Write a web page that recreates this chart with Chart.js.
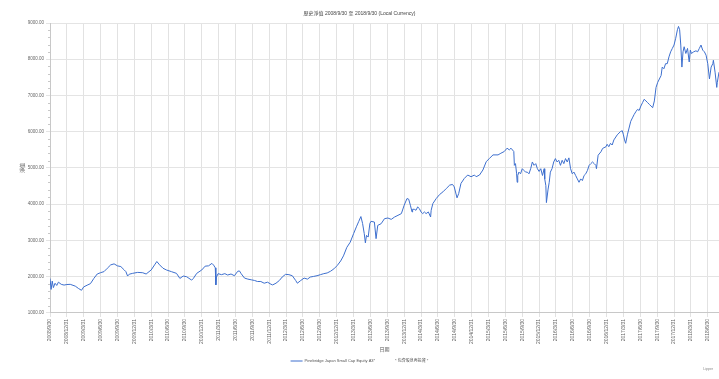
<!DOCTYPE html>
<html>
<head>
<meta charset="utf-8">
<script src="https://cdn.jsdelivr.net/npm/chart.js"></script>
<style>
  html, body { margin: 0; padding: 0; background: #fff; }
  #wrap { position: relative; width: 719px; height: 379px; }
  #note { position: absolute; right: 6px; bottom: 8px; font: 3.5px "Liberation Sans", sans-serif; color: #888; }
</style>
</head>
<body>
<div id="wrap">
  <canvas id="navChart" width="719" height="379"></canvas>
  <div id="note">Lipper</div>
</div>
<script>
// Chart data (months after 2008/9/30, fund value)
const monthOffsets = [
    0, 0.2, 0.4, 0.6, 0.9, 1.2, 1.5, 2.0, 2.5, 3.0, 3.6, 4.5, 5.1, 5.6, 6.0, 6.6, 7.2, 7.8, 8.4, 9.0,
    9.6, 10.2, 10.8, 11.4, 12.0, 12.6, 13.2, 13.5, 13.8, 14.1, 14.7, 15.6, 16.5, 17.1, 18.0, 18.6, 19.0, 19.5, 20.1, 20.7,
    21.6, 22.5, 23.1, 23.7, 24.3, 25.2, 25.5, 26.1, 27.0, 27.6, 28.2, 28.8, 29.1, 29.4, 29.5, 29.6, 29.9, 30.5, 31.1, 31.6,
    32.2, 32.8, 33.4, 33.7, 34.0, 34.6, 35.2, 35.8, 36.4, 36.9, 37.5, 38.1, 38.7, 39.3, 39.6, 40.2, 40.8, 41.3, 41.9, 42.5,
    43.1, 43.7, 44.0, 44.6, 45.2, 45.8, 46.3, 46.9, 47.5, 48.1, 48.7, 49.3, 49.9, 50.5, 51.1, 51.7, 52.2, 52.8, 53.4, 54.0,
    54.5, 54.9, 55.3, 55.6, 55.9, 56.1, 56.3, 56.6, 56.9, 57.1, 57.7, 58.0, 58.3, 58.9, 59.5, 60.1, 60.7, 61.3, 61.9, 62.5,
    63.0, 63.5, 63.8, 64.1, 64.4, 64.5, 64.8, 65.1, 65.4, 65.7, 66.0, 66.3, 66.6, 66.9, 67.3, 67.7, 67.8, 68.1, 68.7, 69.3,
    69.9, 70.5, 71.1, 71.6, 71.9, 72.4, 72.7, 73.1, 73.7, 74.3, 74.9, 75.5, 75.8, 76.4, 77.0, 77.6, 78.2, 78.8, 79.7, 80.2,
    80.8, 81.3, 81.7, 82.0, 82.5, 82.6, 82.8, 83.0, 83.1, 83.2, 83.4, 83.7, 84.0, 84.3, 84.6, 84.9, 85.2, 85.5, 85.8, 86.1,
    86.4, 86.7, 87.0, 87.3, 87.6, 87.9, 88.0, 88.2, 88.3, 88.6, 88.8, 89.0, 89.3, 89.6, 89.9, 90.2, 90.5, 90.8, 91.1, 91.4,
    91.7, 92.0, 92.3, 92.6, 92.9, 93.2, 93.5, 93.8, 94.1, 94.4, 94.7, 95.0, 95.3, 95.6, 95.9, 96.2, 96.5, 96.8, 97.1, 97.2,
    97.5, 98.0, 98.3, 98.9, 99.1, 99.4, 99.7, 100.0, 100.3, 100.9, 101.5, 101.8, 102.0, 102.2, 102.4, 102.7, 103.0, 103.3, 103.6, 103.9,
    104.2, 104.5, 104.8, 105.1, 105.4, 105.7, 106.0, 106.3, 106.6, 106.9, 107.2, 107.5, 107.8, 108.1, 108.7, 108.9, 109.2, 109.5, 109.8, 110.1,
    110.4, 110.7, 111.0, 111.3, 111.6, 111.8, 112.0, 112.2, 112.4, 112.6, 112.8, 113.1, 113.4, 113.7, 113.9, 114.1, 114.5, 114.9, 115.2, 115.5,
    115.8, 116.1, 116.4, 116.7, 117.0, 117.3, 117.6, 117.9, 118.0, 118.3, 118.6, 118.7, 119.0
];

const fundValues = [
    1950, 1650, 1880, 1700, 1820, 1760, 1850, 1790, 1770, 1785, 1790, 1740, 1673, 1626, 1720, 1766, 1810, 1953, 2075, 2112,
    2140, 2234, 2327, 2355, 2300, 2280, 2187, 2140, 2019, 2070, 2093, 2120, 2110, 2075, 2187, 2327, 2420, 2327, 2234, 2187,
    2140, 2093, 1953, 2019, 2000, 1906, 1953, 2093, 2187, 2292, 2300, 2368, 2320, 2245, 1774, 1990, 2085, 2057, 2085, 2047,
    2075, 2028, 2151, 2160, 2085, 1962, 1934, 1915, 1896, 1868, 1868, 1821, 1849, 1793, 1774, 1821, 1896, 1991, 2066, 2057,
    2028, 1896, 1821, 1896, 1962, 1934, 1991, 2009, 2028, 2057, 2085, 2104, 2151, 2217, 2311, 2434, 2575, 2811, 2952, 3188,
    3377, 3518, 3660, 3471, 3188, 2934, 3141, 3094, 3471, 3528, 3509, 3050, 3417, 3463, 3602, 3620, 3583, 3648, 3694, 3741,
    3972, 4157, 4139, 3972, 3787, 3861, 3861, 3833, 3926, 3880, 3787, 3741, 3787, 3741, 3787, 3648, 3833, 4018, 4157, 4268,
    4342, 4435, 4528, 4546, 4481, 4176, 4296, 4574, 4713, 4806, 4759, 4806, 4759, 4806, 4944, 5176, 5269, 5361, 5361, 5407,
    5454, 5546, 5500, 5546, 5454, 5073, 5120, 4839, 4606, 4793, 4886, 4839, 4980, 4933, 4886, 4886, 4839, 4980, 5166, 5073,
    5120, 4980, 4905, 4980, 4793, 4980, 4699, 4512, 4045, 4419, 4606, 4886, 4980, 5166, 5260, 5166, 5213, 5073, 5213, 5120,
    5260, 5166, 5279, 4980, 4839, 4886, 4793, 4699, 4606, 4699, 4652, 4793, 4839, 4933, 5073, 5120, 5166, 5120, 5073, 4980,
    5353, 5447, 5540, 5587, 5653, 5587, 5681, 5634, 5774, 5914, 6008, 6027, 5914, 5774, 5681, 5914, 6102, 6288, 6382, 6475,
    6550, 6616, 6588, 6709, 6803, 6896, 6850, 6803, 6756, 6709, 6663, 6850, 7223, 7364, 7551, 7784, 7738, 7878, 7878, 8065,
    8205, 8299, 8392, 8579, 8813, 8906, 8813, 8392, 7784, 8205, 8345, 8159, 8299, 7925, 8252, 8159, 8205, 8233, 8205, 8299,
    8392, 8252, 8205, 8112, 7878, 7457, 7784, 7878, 7972, 7644, 7223, 7364, 7644
];

// Quarter-end tick labels (every 3 months)
const quarterLabels = [
    '2008/9/30', '2008/12/31', '2009/3/31', '2009/6/30', '2009/9/30', '2009/12/31', '2010/3/31', '2010/6/30',
    '2010/9/30', '2010/12/31', '2011/3/31', '2011/6/30', '2011/9/30', '2011/12/31', '2012/3/31', '2012/6/30',
    '2012/9/30', '2012/12/31', '2013/3/31', '2013/6/30', '2013/9/30', '2013/12/31', '2014/3/31', '2014/6/30',
    '2014/9/30', '2014/12/31', '2015/3/31', '2015/6/30', '2015/9/30', '2015/12/31', '2016/3/31', '2016/6/30',
    '2016/9/30', '2016/12/31', '2017/3/31', '2017/6/30', '2017/9/30', '2017/12/31', '2018/3/31', '2018/6/30'
];

const fontFamily = '"Liberation Sans", Arial, "Noto Sans CJK TC", sans-serif';

// Small minor tick marks on the value axis
const minorTicks = {
    id: 'minorTicks',
    afterDraw(chart) {
        const y = chart.scales.y;
        const ctx = chart.ctx;
        ctx.save();
        ctx.strokeStyle = '#c8c8c8';
        ctx.lineWidth = 1;
        for (let v = 1000; v <= 9000; v += 200) {
            if (v % 1000 === 0) continue;
            const py = Math.round(y.getPixelForValue(v)) + 0.5;
            ctx.beginPath();
            ctx.moveTo(y.right - 2, py);
            ctx.lineTo(y.right, py);
            ctx.stroke();
        }
        ctx.restore();
    }
};

new Chart(document.getElementById('navChart'), {
    type: 'line',
    data: {
        datasets: [{
            label: 'Pinebridge Japan Small Cap Equity A3*',
            data: monthOffsets.map((m, i) => ({ x: m, y: fundValues[i] })),
            borderColor: '#3d6fce',
            backgroundColor: '#3d6fce',
            borderWidth: 1,
            pointRadius: 0,
            tension: 0
        }, {
            label: '* 包含股息再投資 *',
            data: [],
            borderColor: 'rgba(0,0,0,0)',
            backgroundColor: 'rgba(0,0,0,0)',
            pointRadius: 0
        }]
    },
    options: {
        responsive: false,
        animation: false,
        layout: { padding: { top: 0, left: 0, right: 0, bottom: 6 } },
        plugins: {
            title: {
                display: true,
                text: '歷史淨值 2008/9/30 至 2018/9/30 (Local Currency)',
                color: '#444',
                font: { family: fontFamily, size: 5, weight: 'normal' },
                padding: { top: 11, bottom: 6 }
            },
            legend: {
                position: 'bottom',
                labels: {
                    usePointStyle: true,
                    pointStyle: 'line',
                    pointStyleWidth: 12,
                    boxHeight: 4,
                    color: '#555',
                    padding: 6,
                    font: { family: fontFamily, size: 4 }
                }
            },
            tooltip: { enabled: false }
        },
        scales: {
            x: {
                type: 'linear',
                min: 0,
                max: 119,
                grid: { color: '#e2e2e2', tickLength: 4 },
                border: { color: '#c8c8c8' },
                ticks: {
                    stepSize: 3,
                    includeBounds: false,
                    autoSkip: false,
                    maxRotation: 90,
                    minRotation: 90,
                    padding: 2,
                    color: '#666',
                    font: { family: fontFamily, size: 5 },
                    callback: function(value) {
                        return quarterLabels[Math.round(value / 3)] || '';
                    }
                },
                title: {
                    display: true,
                    text: '日期',
                    color: '#555',
                    font: { family: fontFamily, size: 5 },
                    padding: { top: 1, bottom: 0 }
                }
            },
            y: {
                min: 1000,
                max: 9000,
                grid: { color: '#e4e4e4', tickLength: 4 },
                border: { color: '#c8c8c8' },
                ticks: {
                    stepSize: 1000,
                    padding: 2,
                    color: '#666',
                    font: { family: fontFamily, size: 4.5 },
                    callback: function(value) {
                        return value.toFixed(2);
                    }
                },
                title: {
                    display: true,
                    text: '淨值',
                    color: '#555',
                    font: { family: fontFamily, size: 5 },
                    padding: { top: 20, bottom: 0 }
                },
                afterFit: function(scale) {
                    scale.width = 50;
                }
            }
        }
    },
    plugins: [minorTicks]
});
</script>
</body>
</html>
